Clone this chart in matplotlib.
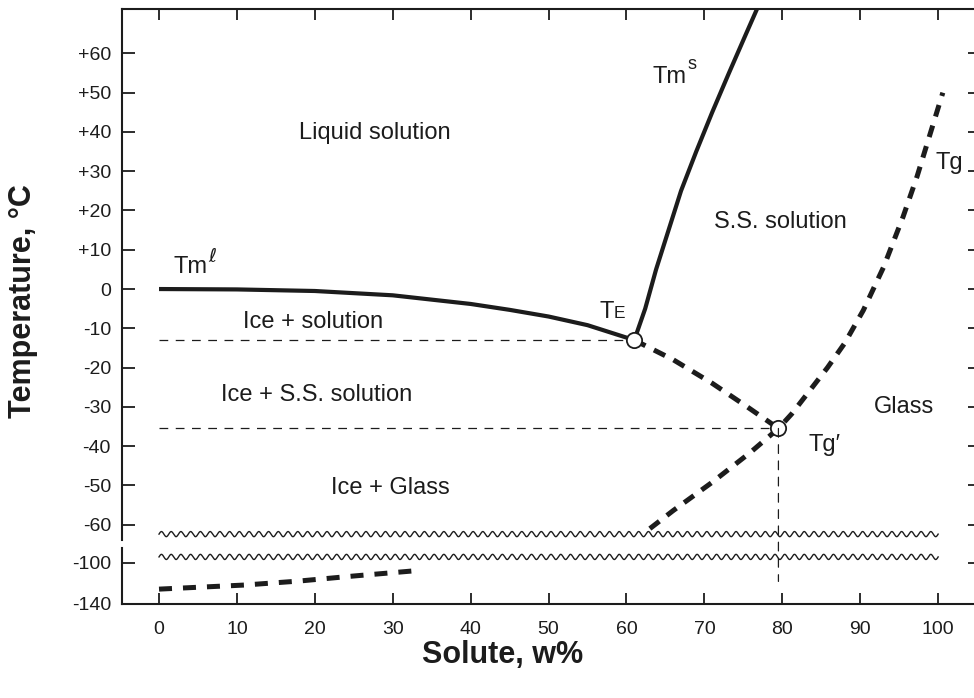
import numpy as np
import matplotlib
matplotlib.use("Agg")
import matplotlib.pyplot as plt
from matplotlib.patches import ConnectionPatch

plt.rcParams["font.family"] = ["Liberation Sans", "DejaVu Sans"]

INK = "#1c1c1c"

# curves: solute (w%) vs temperature (degC)
tm_liq_x = [0, 10, 20, 30, 40, 45, 50, 55, 58, 61]
tm_liq_y = [0, -0.1, -0.5, -1.6, -3.8, -5.3, -7.0, -9.2, -11.1, -13]
tm_sol_x = [61.0, 62.4, 63.8, 65.4, 67.0, 68.95, 71.0, 73.15, 75.35, 76.75]
tm_sol_y = [-13, -5, 5, 15, 25, 35, 45, 55, 65, 71.3]
te_ext_x = [61, 66, 71, 75.5, 79.5]
te_ext_y = [-13, -18, -24, -30, -35.5]
tg_x = [63, 66, 71, 75.9, 79.5, 81.2, 85.8, 88, 90.4, 93, 95.5, 97.3, 100.6]
tg_y = [-61, -56.4, -49.2, -41.6, -35.5, -31.8, -20, -13.8, -5.4, 5.6, 18.4, 28.7, 50]
tg_low_x = [0, 11, 18, 25, 33]
tg_low_y = [-125.5, -121.5, -117.6, -112.7, -107.5]

te_point = (61, -13)
tgp_point = (79.5, -35.5)
tgp_drop_to = -118

x_ticks = [0, 10, 20, 30, 40, 50, 60, 70, 80, 90, 100]
y_ticks_top = [60, 50, 40, 30, 20, 10, 0, -10, -20, -30, -40, -50, -60]
y_labels_top = ["+60", "+50", "+40", "+30", "+20", "+10", "0",
                "-10", "-20", "-30", "-40", "-50", "-60"]
y_ticks_bot = [-100, -140]
y_labels_bot = ["-100", "-140"]

W, H = 974, 698
fig = plt.figure(figsize=(W / 100, H / 100), dpi=100)
ax = fig.add_axes([122 / W, (H - 540) / H, (981 - 122) / W, (540 - 9) / H])
axb = fig.add_axes([122 / W, (H - 604) / H, (981 - 122) / W, (604 - 548) / H])

xlim = (-4.75, 105.5)
ax.set_xlim(*xlim)
axb.set_xlim(*xlim)
ax.set_ylim(-63.9, 71.3)
axb.set_ylim(-140, -85.4)

for a in (ax, axb):
    for s in a.spines.values():
        s.set_linewidth(1.5)
        s.set_color(INK)
ax.spines["bottom"].set_visible(False)
axb.spines["top"].set_visible(False)

ax.set_xticks(x_ticks)
ax.set_yticks(y_ticks_top)
ax.set_yticklabels(y_labels_top)
ax.tick_params(axis="x", direction="in", top=True, bottom=False, labelbottom=False,
               length=8, width=1.3, color=INK)
ax.tick_params(axis="y", direction="in", left=True, right=True, length=9.5, width=1.3,
               color=INK, labelsize=14, pad=8, labelcolor=INK)

axb.set_xticks(x_ticks)
axb.set_yticks(y_ticks_bot)
axb.set_yticklabels(y_labels_bot)
axb.tick_params(axis="x", direction="in", top=False, bottom=True, length=8, width=1.3,
                color=INK, labelsize=14, pad=12, labelcolor=INK)
axb.tick_params(axis="y", direction="in", left=True, right=True, length=9.5, width=1.3,
                color=INK, labelsize=14, pad=8, labelcolor=INK)

# phase boundaries
ax.plot(tm_liq_x, tm_liq_y, color=INK, lw=3.0, solid_capstyle="butt", solid_joinstyle="round")
ax.plot(tm_sol_x, tm_sol_y, color=INK, lw=3.0, solid_capstyle="butt", solid_joinstyle="round")
ax.plot(te_ext_x, te_ext_y, color=INK, lw=3.6, ls=(0, (2.5, 1.9)))
ax.plot(tg_x, tg_y, color=INK, lw=3.6, ls=(0, (2.4, 1.9)))
axb.plot(tg_low_x, tg_low_y, color=INK, lw=3.6, ls=(0, (2.6, 2.2)))

# thin guide lines
ax.plot([0, te_point[0]], [te_point[1], te_point[1]], color=INK, lw=0.9, ls=(0, (7, 6)))
ax.plot([0, tgp_point[0]], [tgp_point[1], tgp_point[1]], color=INK, lw=0.9, ls=(0, (7, 6)))
drop = ConnectionPatch(xyA=tgp_point, coordsA=ax.transData,
                       xyB=(tgp_point[0], tgp_drop_to), coordsB=axb.transData,
                       color=INK, lw=0.9, ls=(0, (7, 6)))
fig.add_artist(drop)

# axis-break ornaments (wavy lines)
def wavy(a, y, amp):
    xs = np.linspace(0, 100, 2000)
    a.plot(xs, y + amp * np.sin(2 * np.pi * xs / 1.25), color=INK, lw=1.0)

wavy(ax, -62.4, 0.65)
wavy(axb, -94.1, 2.5)

for p in (te_point, tgp_point):
    ax.plot(*p, marker="o", ms=11, mfc="white", mec=INK, mew=1.3, zorder=5)

fs = 17
ax.text(27.7, 39.7, "Liquid solution", fontsize=fs, ha="center", va="center", color=INK)
ax.text(79.8, 17.1, "S.S. solution", fontsize=fs, ha="center", va="center", color=INK)
ax.text(19.8, -8.4, "Ice + solution", fontsize=fs, ha="center", va="center", color=INK)
ax.text(20.2, -27, "Ice + S.S. solution", fontsize=fs, ha="center", va="center", color=INK)
ax.text(29.7, -50.7, "Ice + Glass", fontsize=fs, ha="center", va="center", color=INK)
ax.text(95.6, -30, "Glass", fontsize=fs, ha="center", va="center", color=INK)
ax.text(63.4, 52.5, "Tm", fontsize=fs, ha="left", va="baseline", color=INK)
ax.text(67.8, 56.0, "s", fontsize=13, ha="left", va="baseline", color=INK)
ax.text(1.8, 4.1, "Tm", fontsize=fs, ha="left", va="baseline", color=INK)
ax.text(6.3, 6.9, "\u2113", fontsize=14, ha="left", va="baseline", color=INK,
        family=["DejaVu Sans"])
ax.text(99.6, 32.1, "Tg", fontsize=fs, ha="left", va="center", color=INK, clip_on=False)
ax.text(85.4, -39.7, "Tg\u2032", fontsize=fs, ha="center", va="center", color=INK)
ax.text(56.5, -7.4, "T", fontsize=fs, ha="left", va="baseline", color=INK)
ax.text(58.3, -7.4, "E", fontsize=12.5, ha="left", va="baseline", color=INK)

fig.text(23 / W, 1 - 301 / H, "Temperature, \u00b0C", rotation=90, fontsize=22,
         fontweight="bold", ha="center", va="center", color=INK)
fig.text(503 / W, 1 - 655 / H, "Solute, w%", fontsize=22, fontweight="bold",
         ha="center", va="center", color=INK)

fig.savefig("out.png", dpi=100)
